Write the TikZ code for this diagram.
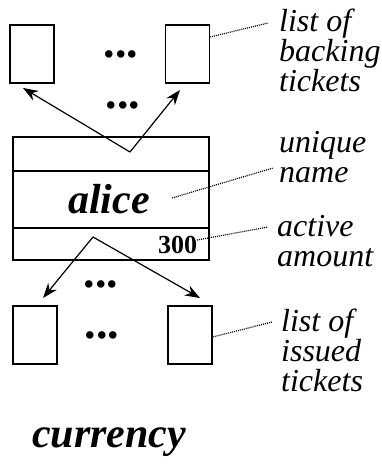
\documentclass[tikz,border=0pt]{standalone}
\usepackage{fontspec}
\setmainfont{Liberation Serif}
\usetikzlibrary{arrows.meta,calc}
\tikzset{
  ticket/.style={draw, line width=1.4pt, minimum width=44pt, minimum height=58pt, inner sep=0pt},
  fieldbox/.style={draw, line width=1.4pt},
  ptr/.style={line width=1.2pt, -{Stealth[length=15pt,width=11pt]}},
  leader/.style={line width=1.2pt, dash pattern=on 1pt off 1pt},
  dots/.style={font=\bfseries\fontsize{46}{46}\selectfont, inner sep=0pt},
  lbl/.style={font=\itshape\fontsize{32}{30}\selectfont, align=left, inner sep=0pt, anchor=base west},
  big/.style={font=\bfseries\itshape\fontsize{42}{42}\selectfont, inner sep=0pt, anchor=base},
}
\begin{document}
\begin{tikzpicture}[x=1pt,y=-1pt]
\useasboundingbox (0,0) rectangle (382,466);
% backing tickets
\node[ticket] (tl) at (32,54) {};
\node[ticket] (tr) at (187.5,54) {};
\node[dots] (d1) at (121,54) {...};
\node[dots] (d2) at (123,105) {...};
% currency box
\node[fieldbox, minimum width=196pt, minimum height=123pt, inner sep=0pt] (cur) at (111,198.5) {};
\coordinate (l1w) at (13,171); \coordinate (l1e) at (209,171);
\coordinate (l2w) at (13,228); \coordinate (l2e) at (209,228);
\draw[line width=1.4pt] (l1w) -- (l1e);
\draw[line width=1.4pt] (l2w) -- (l2e);
\node[big] (alice) at (109,213) {alice};
\node[font=\bfseries\fontsize{26}{26}\selectfont, inner sep=0pt, anchor=base] (amt) at (177.5,253) {300};
% issued tickets
\node[ticket] (bl) at (35,335) {};
\node[ticket] (br) at (190,335) {};
\node[dots] (d3) at (101,284) {...};
\node[dots] (d4) at (102,335) {...};
% pointers
\coordinate (topapex) at (130,152);
\coordinate (botapex) at (93,237);
\coordinate (tlt) at (23,88);
\coordinate (trt) at (180,90);
\coordinate (blt) at (43,298);
\coordinate (brt) at (200,298);
\draw[ptr] (topapex) -- (tlt);
\draw[ptr] (topapex) -- (trt);
\draw[ptr] (botapex) -- (blt);
\draw[ptr] (botapex) -- (brt);
% labels (anchored at the baseline of the last line)
\node[lbl] (lb) at (279,91) {list of\\backing\\tickets};
\node[lbl] (ln) at (279,182) {unique\\name};
\node[lbl] (la) at (277,266) {active\\amount};
\node[lbl] (li) at (281,391) {list of\\issued\\tickets};
\coordinate (e1) at (268,23);
\coordinate (e2) at (273,168);
\coordinate (e3) at (268,227);
\coordinate (e4) at (272,322);
\coordinate (s2) at (172,198);
\draw[leader] (tr.east |- 0,37) -- (e1);
\draw[leader] (s2) -- (e2);
\draw[leader] (amt.east |- 0,240) -- (e3);
\draw[leader] (br.east |- 0,337) -- (e4);
\node[big] (title) at (109,447) {currency};
\end{tikzpicture}
\end{document}
